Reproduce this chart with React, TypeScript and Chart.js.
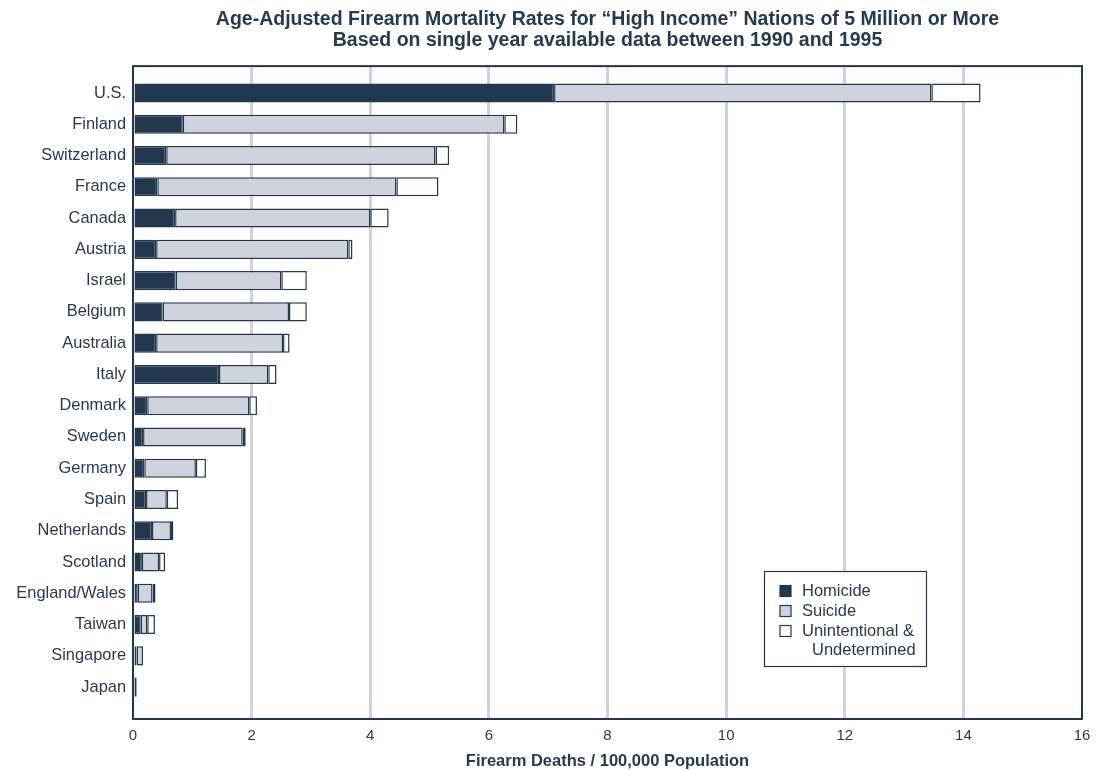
import { useEffect, useRef } from "react";
import { Chart, registerables } from "chart.js";

Chart.register(...registerables);

const countries = [
  "U.S.", "Finland", "Switzerland", "France", "Canada", "Austria", "Israel",
  "Belgium", "Australia", "Italy", "Denmark", "Sweden", "Germany", "Spain",
  "Netherlands", "Scotland", "England/Wales", "Taiwan", "Singapore", "Japan",
];
const homicide = [7.1, 0.84, 0.56, 0.41, 0.71, 0.39, 0.72, 0.5, 0.39, 1.45, 0.24, 0.17, 0.19, 0.22, 0.32, 0.15, 0.08, 0.13, 0.06, 0.0];
const suicide = [6.36, 5.42, 4.54, 4.03, 3.29, 3.24, 1.78, 2.13, 2.14, 0.83, 1.72, 1.68, 0.87, 0.35, 0.32, 0.29, 0.25, 0.11, 0.11, 0.06];
const unintentional = [0.83, 0.22, 0.23, 0.71, 0.31, 0.07, 0.43, 0.3, 0.11, 0.14, 0.13, 0.05, 0.17, 0.19, 0.04, 0.1, 0.05, 0.13, 0.0, 0.01];
const xTicks = [0, 2, 4, 6, 8, 10, 12, 14, 16];
const seriesLabels = ["Homicide", "Suicide", "Unintentional &"];
const legendExtraLine = "Undetermined";
const titleLines = [
  "Age-Adjusted Firearm Mortality Rates for \u201CHigh Income\u201D Nations of 5 Million or More",
  "Based on single year available data between 1990 and 1995",
];
const xTitle = "Firearm Deaths / 100,000 Population";

const NAVY = "#22384f";
const GRAY = "#cfd3dd";
const WHITE = "#ffffff";
const TEXT = "#243a51";
const GRID = "#cfd3dd";
const FONT = "'Liberation Sans', Arial, Helvetica, sans-serif";

const seriesColors = [NAVY, GRAY, WHITE];

const framePlugin = {
  id: "frameAndLegend",
  afterDraw(chart: any) {
    const { ctx, chartArea } = chart;
    const { left, right, top, bottom } = chartArea;
    ctx.save();
    ctx.strokeStyle = NAVY;
    ctx.lineWidth = 2;
    ctx.strokeRect(left, top, right - left, bottom - top);

    const bx = right - 318;
    const by = bottom - 148;
    const bw = 162;
    const bh = 95;
    ctx.fillStyle = WHITE;
    ctx.fillRect(bx, by, bw, bh);
    ctx.lineWidth = 1.2;
    ctx.strokeStyle = NAVY;
    ctx.strokeRect(bx + 0.5, by + 0.5, bw, bh);

    ctx.font = `16.5px ${FONT}`;
    ctx.textBaseline = "middle";
    ctx.textAlign = "left";
    seriesLabels.forEach((label, i) => {
      const cy = by + 20 + i * 20;
      ctx.fillStyle = seriesColors[i];
      ctx.fillRect(bx + 16, cy - 5.5, 11, 11);
      ctx.strokeStyle = NAVY;
      ctx.lineWidth = 1.2;
      ctx.strokeRect(bx + 16, cy - 5.5, 11, 11);
      ctx.fillStyle = TEXT;
      ctx.fillText(label, bx + 38, cy + 0.5);
    });
    ctx.fillStyle = TEXT;
    ctx.fillText(legendExtraLine, bx + 48, by + 79.5);
    ctx.restore();
  },
};

export default function App() {
  const canvasRef = useRef<HTMLCanvasElement | null>(null);

  useEffect(() => {
    if (!canvasRef.current) return;
    Chart.defaults.font.family = FONT;
    const mk = (arr: number[]) => arr.map((v, i) => ({ x: v, y: i }));
    const chart = new Chart(canvasRef.current, {
      type: "bar",
      data: {
        datasets: [
          { label: seriesLabels[0], data: mk(homicide) as any, backgroundColor: NAVY, borderColor: NAVY, borderWidth: 1.5, borderSkipped: false },
          { label: seriesLabels[1], data: mk(suicide) as any, backgroundColor: GRAY, borderColor: NAVY, borderWidth: 1.5, borderSkipped: false },
          { label: seriesLabels[2], data: mk(unintentional) as any, backgroundColor: WHITE, borderColor: NAVY, borderWidth: 1.5, borderSkipped: false },
        ],
      },
      options: {
        indexAxis: "y",
        responsive: false,
        maintainAspectRatio: false,
        animation: false,
        categoryPercentage: 1,
        barPercentage: 0.61,
        layout: { padding: { left: 0, right: 21, top: 0, bottom: 0 } },
        plugins: {
          legend: { display: false },
          tooltip: { enabled: false },
          title: {
            display: true,
            text: titleLines,
            fullSize: false,
            color: TEXT,
            font: { family: FONT, size: 19.5, weight: "bold", lineHeight: 1.08 },
            padding: { top: 9, bottom: 15 },
          },
        },
        scales: {
          x: {
            type: "linear",
            min: 0,
            max: 16,
            stacked: true,
            position: "bottom",
            afterBuildTicks: (ax: any) => {
              ax.ticks = xTicks.map((v) => ({ value: v }));
            },
            grid: {
              color: (c: any) => (c.tick && (c.tick.value === 0 || c.tick.value === 16) ? "rgba(0,0,0,0)" : GRID),
              lineWidth: 3,
              drawTicks: false,
            },
            border: { display: false },
            ticks: { color: TEXT, font: { size: 15 }, padding: 8 },
            title: {
              display: true,
              text: xTitle,
              color: TEXT,
              font: { size: 16.5, weight: "bold", lineHeight: 1.05 },
              padding: { top: 6, bottom: 0 },
            },
            afterFit: (s: any) => {
              s.height = 51;
            },
          },
          y: {
            type: "linear",
            reverse: true,
            offset: false,
            min: -0.86,
            max: 20.02,
            stacked: true,
            afterBuildTicks: (ax: any) => {
              ax.ticks = countries.map((_, i) => ({ value: i }));
            },
            grid: { display: false, drawTicks: false, offset: false },
            border: { display: false },
            ticks: {
              autoSkip: false,
              color: TEXT,
              font: { size: 16.4 },
              padding: 7,
              callback: (v: any) => countries[v as number] ?? "",
            },
            afterFit: (s: any) => {
              s.width = 133;
            },
          },
        },
      } as any,
      plugins: [framePlugin],
    });
    return () => chart.destroy();
  }, []);

  return (
    <div style={{ position: "fixed", left: 0, top: 0, width: 1103, height: 770, background: "#fff" }}>
      <canvas ref={canvasRef} width={1103} height={770} style={{ width: 1103, height: 770, display: "block" }} />
    </div>
  );
}
